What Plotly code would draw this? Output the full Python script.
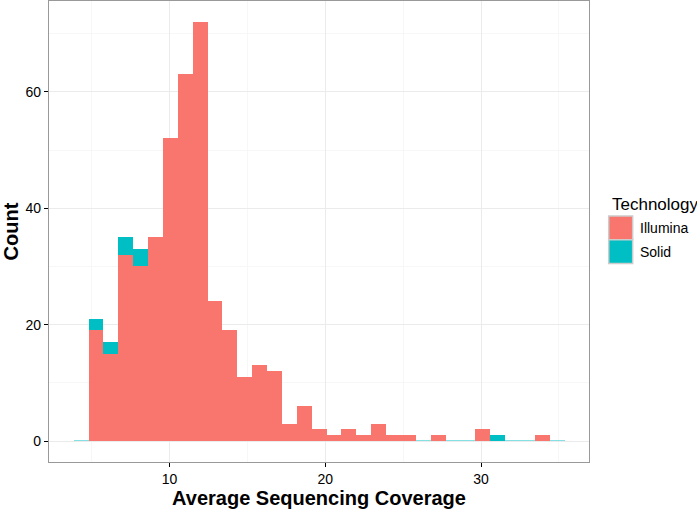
import plotly.graph_objects as go

# Histogram data
bin_start = 3.85
bin_width = 0.955
illumina = [0, 19, 15, 32, 30, 35, 52, 63, 72, 24, 19, 11, 13, 12, 3, 6, 2,
            1, 2, 1, 3, 1, 1, 0, 1, 0, 0, 2, 0, 0, 0, 1, 0]
solid = [0, 2, 2, 3, 3, 0, 0, 0, 0, 0, 0, 0, 0, 0, 0, 0, 0,
         0, 0, 0, 0, 0, 0, 0, 0, 0, 0, 0, 1, 0, 0, 0, 0]
series_names = ["Illumina", "Solid"]
series_colors = ["#F8766D", "#00BFC4"]
x_ticks = [10, 20, 30]
y_ticks = [0, 20, 40, 60]

centers = [bin_start + bin_width * (i + 0.5) for i in range(len(illumina))]
empty_bin_line = [0.8 if (a + b) == 0 else 0 for a, b in zip(illumina, solid)]

fig = go.Figure()
fig.add_trace(go.Bar(x=centers, y=illumina, width=bin_width, name=series_names[0],
                     showlegend=False,
                     marker=dict(color=series_colors[0], line=dict(width=0))))
fig.add_trace(go.Bar(x=centers, y=solid, width=bin_width, name=series_names[1],
                     showlegend=False,
                     marker=dict(color=series_colors[1],
                                 line=dict(width=empty_bin_line,
                                           color="rgba(0,191,196,0.35)"))))

font_family = "Liberation Sans, Arial, sans-serif"

# Legend drawn ggplot-style (big square keys with grey border)
shapes = []
annotations = [dict(text="Technology", xref="paper", yref="paper",
                    x=1.0383, y=0.5575, xanchor="left", yanchor="middle",
                    showarrow=False, font=dict(size=17, color="black"))]
key_x0, key_x1 = 1.0365, 1.0809
key_top = 0.5336
key_h = 0.0515
for i, (nm, col) in enumerate(zip(series_names, series_colors)):
    y1 = key_top - i * key_h
    y0 = y1 - key_h
    shapes.append(dict(type="rect", xref="paper", yref="paper",
                       x0=key_x0, x1=key_x1, y0=y0, y1=y1,
                       fillcolor=col, line=dict(color="#CCCCCC", width=1.5)))
    annotations.append(dict(text=nm, xref="paper", yref="paper",
                            x=1.0901, y=(y0 + y1) / 2, xanchor="left",
                            yanchor="middle", showarrow=False,
                            font=dict(size=14, color="black")))

fig.update_layout(
    barmode="stack",
    bargap=0,
    width=697, height=511,
    margin=dict(l=49, r=108, t=1, b=49, autoexpand=False),
    paper_bgcolor="white",
    plot_bgcolor="white",
    font=dict(family=font_family, color="black", size=14),
    showlegend=False,
    shapes=shapes,
    annotations=annotations,
    xaxis=dict(
        automargin=False,
        range=[2.27, 36.93],
        tickvals=x_ticks,
        ticks="outside", ticklen=4, tickcolor="black", tickwidth=1,
        tickfont=dict(size=14, color="black"),
        showgrid=True, gridcolor="#EBEBEB", gridwidth=1,
        minor=dict(dtick=5, tick0=0, showgrid=True, gridcolor="#F7F7F7", gridwidth=1),
        showline=True, mirror=True, linecolor="#999999", linewidth=1.3,
        zeroline=False,
        title=dict(text="<b>Average Sequencing Coverage</b>", font=dict(size=20),
                   standoff=4),
    ),
    yaxis=dict(
        automargin=False,
        range=[-3.6, 75.6],
        tickvals=y_ticks,
        ticks="outside", ticklen=4, tickcolor="black", tickwidth=1,
        tickfont=dict(size=14, color="black"),
        showgrid=True, gridcolor="#EBEBEB", gridwidth=1,
        minor=dict(dtick=10, tick0=0, showgrid=True, gridcolor="#F7F7F7", gridwidth=1),
        showline=True, mirror=True, linecolor="#999999", linewidth=1.3,
        zeroline=False,
        title=dict(text="<b>Count</b>", font=dict(size=20), standoff=4),
    ),
)

fig.write_html("out.html",
               config={"displayModeBar": False},
               post_script="document.body.style.margin='0px';document.body.style.padding='0px';")
